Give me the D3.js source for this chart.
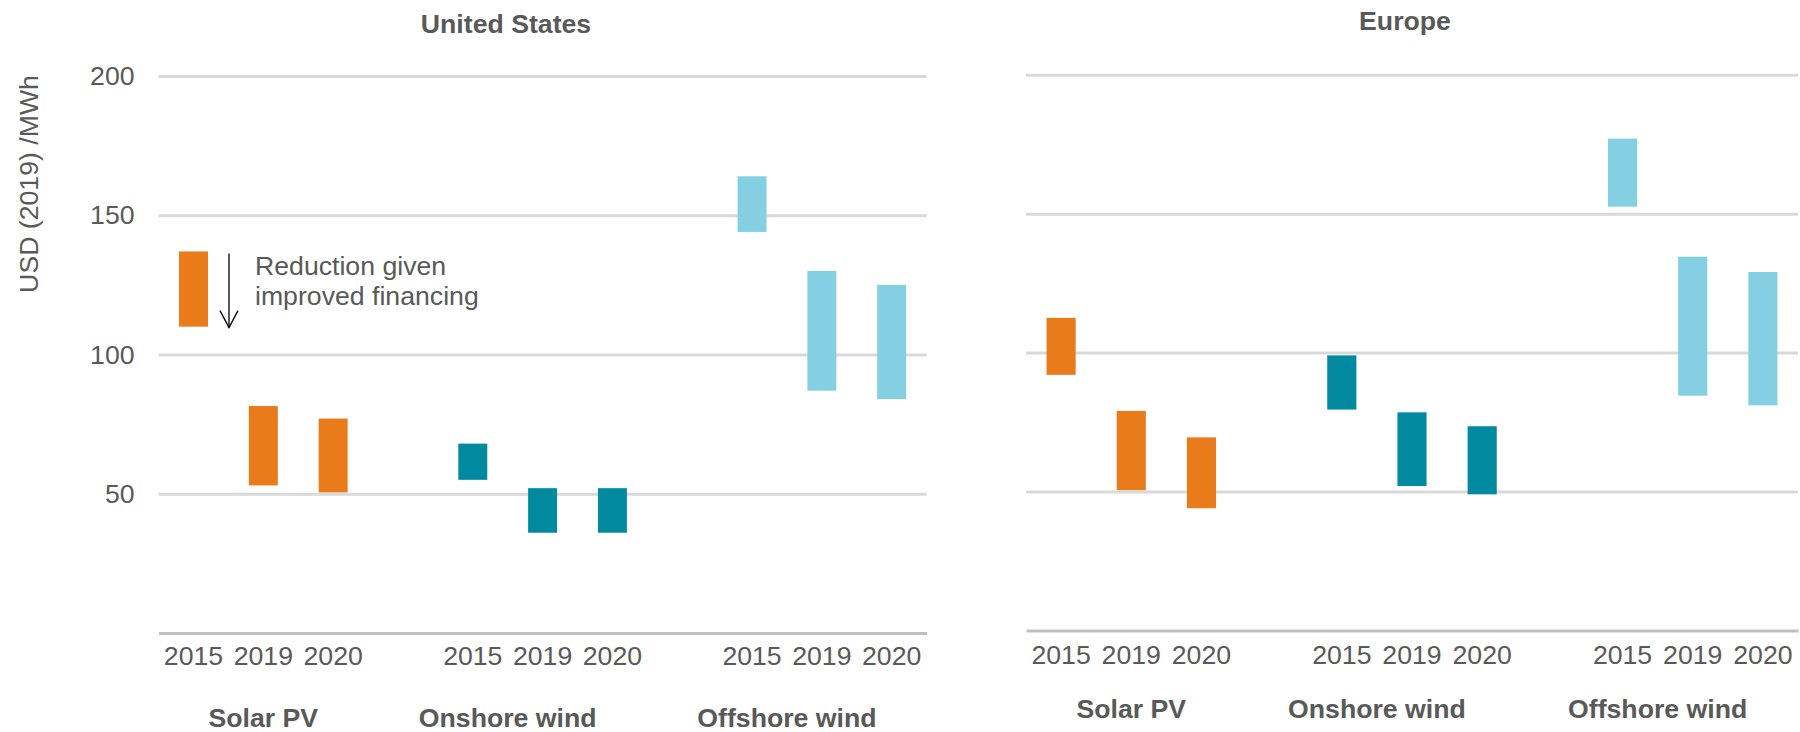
<!DOCTYPE html>
<html><head><meta charset="utf-8">
<script src="https://cdn.jsdelivr.net/npm/d3@7"></script>
<style>
body{margin:0;background:#fff}
text{font-family:"Liberation Sans",Arial,sans-serif}
</style>
</head><body><svg id="c" width="1800" height="732"></svg>
<script>
// ---- data ----
const categories = ["Solar PV", "Onshore wind", "Offshore wind"];
const years = ["2015", "2019", "2020"];
const panelTitles = ["United States", "Europe"];
const yTicks = [50, 100, 150, 200];
const yAxisTitle = "USD (2019) /MWh";
const annotationLines = ["Reduction given", "improved financing"];
// order: Solar 2015,2019,2020, Onshore 2015,2019,2020, Offshore 2015,2019,2020
const usLow  = [110, 53, 50.5, 55, 36, 36, 144, 87, 84];
const usHigh = [137, 81.5, 77, 68, 52, 52, 164, 130, 125];
const euLow  = [92, 50.5, 44, 79.5, 52, 49, 152.5, 84.5, 81];
const euHigh = [112.5, 79, 69.5, 99, 78.5, 73.5, 177, 134.5, 129];
const catColors = ["#E97B1B", "#00899F", "#84CFE1"];

// ---- layout ----
const svg = d3.select("#c");
const textColor = "#595959";
const fs = 26.67;

const slots = [];
const groups = []; // slot keys belonging to each category group (a gap belongs to the following group)
categories.forEach((c, ci) => {
  const grp = [];
  if (ci > 0) { slots.push("gap" + ci); grp.push("gap" + ci); }
  years.forEach(y => { slots.push(c + "|" + y); grp.push(c + "|" + y); });
  groups.push(grp);
});

function buildRows(low, high) {
  const rows = [];
  categories.forEach((c, ci) => years.forEach((y, yi) => {
    const i = ci * years.length + yi;
    rows.push({cat: c, ci, year: y, key: c + "|" + y, low: low[i], high: high[i]});
  }));
  return rows;
}

const panels = [
  {title: panelTitles[0], rows: buildRows(usLow, usHigh), xr: [158.6, 926.6], yr: [633, 76],
   titleX: 506, titleY: 33, yearY: 32, catY: 727, labels: true, annot: true},
  {title: panelTitles[1], rows: buildRows(euLow, euHigh), xr: [1026, 1798], yr: [630.5, 74.7],
   titleX: 1405, titleY: 30, yearY: 33, catY: 718, labels: false, annot: false}
];

panels.forEach(p => {
  const x = d3.scaleBand().domain(slots).range(p.xr).paddingInner(0.585).paddingOuter(0.2925);
  const y = d3.scaleLinear().domain([0, 200]).range(p.yr);
  const g = svg.append("g");
  const cx = k => x(k) + x.bandwidth() / 2;

  // gridlines + y labels
  const ya = d3.axisLeft(y).tickValues(yTicks).tickSize(-(p.xr[1] - p.xr[0])).tickPadding(24)
    .tickFormat(p.labels ? d3.format("d") : () => "");
  const yg = g.append("g").attr("transform", `translate(${p.xr[0]},0)`).call(ya);
  yg.select(".domain").remove();
  yg.selectAll(".tick line").attr("stroke", "#D9D9D9").attr("stroke-width", 3);
  yg.selectAll(".tick text").attr("fill", textColor).attr("font-size", fs)
    .attr("font-family", '"Liberation Sans",Arial,sans-serif');

  // bars
  g.selectAll("rect.bar").data(p.rows).join("rect").attr("class", "bar")
    .attr("x", d => x(d.key)).attr("width", x.bandwidth())
    .attr("y", d => y(d.high)).attr("height", d => y(d.low) - y(d.high))
    .attr("fill", d => catColors[d.ci]);

  // bottom axis
  const xa = d3.axisBottom(x).tickSize(0).tickSizeOuter(0)
    .tickFormat(k => k.startsWith("gap") ? "" : k.split("|")[1]);
  const xg = g.append("g").attr("transform", `translate(0,${y(0)})`).call(xa);
  xg.select(".domain").attr("stroke", "#BFBFBF").attr("stroke-width", 3);
  xg.selectAll(".tick text").attr("fill", textColor).attr("font-size", fs)
    .attr("font-family", '"Liberation Sans",Arial,sans-serif')
    .attr("y", p.yearY).attr("dy", 0);

  // category labels (centred on their group of slots)
  g.selectAll("text.cat").data(categories).join("text").attr("class", "cat")
    .attr("x", (c, i) => (cx(groups[i][0]) + cx(groups[i][groups[i].length - 1])) / 2)
    .attr("y", p.catY).attr("text-anchor", "middle")
    .attr("font-size", fs).attr("font-weight", "bold").attr("fill", textColor)
    .text(c => c);

  // panel title
  g.append("text").attr("x", p.titleX).attr("y", p.titleY).attr("text-anchor", "middle")
    .attr("font-size", fs).attr("font-weight", "bold").attr("fill", textColor).text(p.title);

  if (p.annot) {
    const r = p.rows[0];
    const ax = x(r.key) + x.bandwidth() + 21;
    const y0 = y(r.high) + 2, y1 = y(r.low) + 1;
    g.append("line").attr("x1", ax).attr("x2", ax).attr("y1", y0).attr("y2", y1)
      .attr("stroke", "#000").attr("stroke-width", 1.3);
    g.append("path").attr("d", `M${ax - 9},${y1 - 17}L${ax},${y1}L${ax + 9},${y1 - 17}`)
      .attr("fill", "none").attr("stroke", "#000").attr("stroke-width", 1.3);
    g.selectAll("text.ann").data(annotationLines).join("text").attr("class", "ann")
      .attr("x", ax + 26).attr("y", (d, i) => y(r.high) + 24 + i * 30)
      .attr("font-size", fs).attr("fill", textColor).text(d => d);
  }
});

// y axis title
svg.append("text").attr("transform", "translate(38,184) rotate(-90)")
  .attr("text-anchor", "middle").attr("font-size", fs).attr("fill", textColor)
  .text(yAxisTitle);
</script>
</body></html>
